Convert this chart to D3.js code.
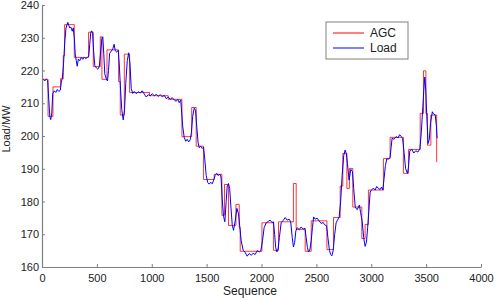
<!DOCTYPE html>
<html>
<head>
<meta charset="utf-8">
<script src="https://cdn.jsdelivr.net/npm/d3@7"></script>
<style>
  body { margin: 0; background: #fff; }
  text { font-family: "Liberation Sans", Arial, sans-serif; }
</style>
</head>
<body>
<div id="chart"></div>
<script>
const width = 498,
      height = 300;
const margin = { top: 5, right: 17, bottom: 33, left: 42 };

// AGC set-point steps: sequence where each step starts, and its value
const agcSeq = [0, 55, 100, 169, 194, 206, 294, 424, 467, 531, 546, 592, 698, 713, 750, 798, 980, 1150,
  1275, 1364, 1405, 1472, 1569, 1639, 1663, 1699, 1767, 1797, 1806, 2004, 2109, 2155, 2291, 2316,
  2398, 2453, 2596, 2656, 2717, 2741, 2778, 2801, 2832, 2914, 2944, 2974, 3111, 3172, 3293, 3339,
  3446, 3476, 3498, 3512, 3543, 3596, 3600];
const agcVal = [217.3, 206, 215, 217.5, 224.5, 234, 224, 231.7, 221.2, 230.3, 217.3, 226.3, 216.6, 206.4, 225, 213.3, 212.3, 211.2,
  199.8, 208.7, 196.9, 186.7, 188.3, 175.8, 185.2, 172.7, 179.1, 172, 164.8, 173.5, 165.1, 173.8, 185.5, 171.5,
  164.8, 174.1, 165.3, 175.1, 184.7, 194.7, 184, 190.1, 178.3, 168.7, 173, 183.5, 193.1, 199.6, 188.6, 195.9,
  206.9, 219.9, 206.9, 197.2, 206.4, 192.1, 192.1];

const loadSeq = [0, 12, 25, 39, 51, 62, 71, 80, 89, 98, 112, 126, 139, 153, 167, 176, 185, 196, 208, 219,
  235, 244, 253, 262, 276, 285, 294, 303, 312, 321, 331, 344, 358, 372, 385, 399, 413, 426, 435, 444,
  452, 461, 470, 481, 495, 508, 522, 535, 545, 554, 563, 572, 586, 597, 606, 616, 631, 645, 657, 668,
  681, 695, 704, 716, 727, 740, 752, 763, 777, 790, 802, 813, 827, 841, 859, 877, 895, 913, 932, 950,
  968, 986, 1005, 1023, 1041, 1059, 1077, 1096, 1114, 1132, 1150, 1168, 1187, 1205, 1223, 1237, 1250, 1264, 1273, 1282,
  1296, 1310, 1323, 1337, 1351, 1361, 1373, 1387, 1399, 1410, 1422, 1433, 1446, 1460, 1472, 1483, 1496, 1510, 1524, 1537,
  1551, 1564, 1578, 1592, 1606, 1619, 1631, 1642, 1654, 1666, 1678, 1687, 1699, 1710, 1722, 1733, 1745, 1760, 1776, 1790,
  1803, 1815, 1833, 1851, 1869, 1888, 1906, 1924, 1942, 1961, 1979, 1994, 2009, 2024, 2043, 2061, 2079, 2095, 2109, 2120,
  2129, 2140, 2151, 2163, 2179, 2197, 2216, 2234, 2252, 2266, 2280, 2291, 2302, 2313, 2325, 2343, 2361, 2380, 2396, 2407,
  2418, 2428, 2440, 2453, 2464, 2475, 2489, 2507, 2525, 2543, 2562, 2575, 2593, 2605, 2619, 2630, 2641, 2653, 2667, 2680,
  2692, 2708, 2721, 2735, 2749, 2762, 2773, 2783, 2798, 2814, 2829, 2840, 2854, 2872, 2892, 2903, 2917, 2931, 2944, 2956,
  2967, 2978, 2990, 3005, 3020, 3035, 3050, 3067, 3081, 3094, 3105, 3117, 3129, 3142, 3156, 3172, 3181, 3190, 3208, 3226,
  3245, 3258, 3272, 3286, 3299, 3313, 3330, 3339, 3351, 3370, 3388, 3406, 3424, 3443, 3456, 3470, 3479, 3488, 3497, 3506,
  3518, 3529, 3540, 3557, 3567, 3583, 3594, 3600];
const loadVal = [217.0, 217.3, 216.8, 217.4, 217.0, 211, 206, 205.0, 207, 213.0, 213.8, 213.3, 214.2, 213.6, 214.0, 216.5, 217.5, 222, 229, 233,
  234.7, 233.8, 233.0, 233.3, 232.0, 233.0, 230, 225, 223.0, 221.3, 223.5, 223.0, 224.0, 223.4, 224.1, 223.6, 224.0, 224.3, 228, 231.5,
  232.1, 231.4, 226, 221.5, 220.8, 220.4, 221.2, 226, 229.5, 230.3, 225, 219, 217.4, 216.8, 220, 225.2, 225.9, 226.6, 228.0, 226.0,
  225.6, 226.2, 222, 214, 208, 204.9, 208, 216, 223, 225.4, 222, 214.5, 213.0, 213.6, 212.9, 213.5, 213.1, 213.8, 212.8, 211.9,
  212.6, 212.3, 212.9, 212.3, 212.7, 212.1, 212.6, 212.0, 212.4, 211.4, 211.9, 211.2, 211.7, 211.0, 210.6, 211.2, 210.2, 211.0, 207, 203,
  199.5, 198.4, 199.0, 198.2, 198.9, 201, 206, 208.5, 207.8, 203, 198, 196.4, 196.9, 196.2, 196.6, 193, 188, 185.8, 185.3, 185.9,
  185.4, 186.5, 188.0, 188.6, 187.9, 188.4, 187.5, 181, 175.5, 173.8, 180, 184.5, 185.5, 184.0, 178, 173, 171.2, 174, 177.9, 176.3,
  172, 168, 165.1, 164.5, 163.3, 164.1, 163.6, 164.2, 163.8, 165.0, 164.6, 165.0, 168, 172, 173.5, 173.9, 174.3, 173.6, 173.8, 170,
  166, 164.6, 165.5, 169, 173.5, 174.2, 175.1, 174.3, 174.6, 173.8, 169, 166.1, 167.5, 171.0, 172.0, 171.4, 172.2, 171.6, 171.8, 169,
  166, 164.6, 165.2, 168, 172, 175.3, 174.6, 174.9, 174.1, 173.3, 173.6, 172.9, 172.6, 169, 165.1, 163.8, 163.4, 165, 170, 173.5,
  174.3, 175.3, 180, 188, 194, 195.7, 194.6, 191.6, 186.5, 189.8, 189.1, 184, 178.3, 177.5, 178.9, 176.6, 174, 169, 166.3, 167.5,
  172, 177, 182.9, 183.6, 184.1, 183.5, 184.6, 183.9, 183.7, 184.4, 183.5, 187, 191, 193.1, 192.9, 193.5, 196.5, 199.3, 199.0, 199.8,
  199.4, 200.4, 199.9, 199.2, 195, 190, 188.6, 190.5, 195.5, 195.9, 194.8, 195.5, 195.1, 196.0, 201, 209, 214, 218.0, 214, 206,
  197.7, 199, 204, 207.4, 206.8, 206.4, 203, 199.3];

const xTicks = [0, 500, 1000, 1500, 2000, 2500, 3000, 3500, 4000];
const yTicks = [160, 170, 180, 190, 200, 210, 220, 230, 240];
const seriesNames = ["AGC", "Load"];
const seriesColors = ["#ff0000", "#0000ff"];

const agcData = agcSeq.map((s, i) => ({ x: s, y: agcVal[i] }));
const loadData = loadSeq.map((s, i) => ({ x: s, y: loadVal[i] }));

const svg = d3.select("#chart")
  .append("svg")
  .attr("width", width)
  .attr("height", height);

const xScale = d3.scaleLinear()
  .domain([0, 4000])
  .range([margin.left, width - margin.right]);
const yScale = d3.scaleLinear()
  .domain([160, 240])
  .range([height - margin.bottom, margin.top]);

// AGC first, load drawn over it
svg.append("path")
  .datum(agcData)
  .attr("fill", "none")
  .attr("stroke", seriesColors[0])
  .attr("stroke-width", 0.8)
  .attr("d", d3.line().x(d => xScale(d.x)).y(d => yScale(d.y)).curve(d3.curveStepAfter));

svg.append("path")
  .datum(loadData)
  .attr("fill", "none")
  .attr("stroke", seriesColors[1])
  .attr("stroke-width", 1)
  .attr("d", d3.line().x(d => xScale(d.x)).y(d => yScale(d.y)));

const axisColor = "#808080";

const xAxis = svg.append("g")
  .attr("transform", `translate(0, ${height - margin.bottom})`)
  .call(d3.axisBottom(xScale).tickValues(xTicks).tickFormat(d3.format("d"))
    .tickSizeInner(-3).tickSizeOuter(0).tickPadding(7));
const yAxis = svg.append("g")
  .attr("transform", `translate(${margin.left}, 0)`)
  .call(d3.axisLeft(yScale).tickValues(yTicks).tickFormat(d3.format("d"))
    .tickSizeInner(-3).tickSizeOuter(0).tickPadding(3));

[xAxis, yAxis].forEach(ax => {
  ax.select(".domain").attr("stroke", axisColor).attr("stroke-width", 1.2);
  ax.selectAll(".tick line").attr("stroke", axisColor);
  ax.selectAll(".tick text")
    .attr("fill", "#222")
    .style("font-size", "11px")
    .style("font-family", "\"Liberation Sans\", Arial, sans-serif");
});

svg.append("text")
  .attr("x", 250)
  .attr("y", 295)
  .attr("text-anchor", "middle")
  .attr("font-size", "12px")
  .attr("fill", "#222")
  .text("Sequence");

svg.append("text")
  .attr("transform", "translate(10, 129) rotate(-90)")
  .attr("text-anchor", "middle")
  .attr("font-size", "11px")
  .attr("fill", "#222")
  .text("Load/MW");

// legend
const legend = svg.append("g").attr("transform", "translate(326, 22)");
legend.append("rect")
  .attr("width", 82)
  .attr("height", 37)
  .attr("fill", "#fff")
  .attr("stroke", "#808080");
seriesNames.forEach((name, i) => {
  legend.append("line")
    .attr("x1", 7).attr("x2", 38)
    .attr("y1", 11 + i * 15).attr("y2", 11 + i * 15)
    .attr("stroke", seriesColors[i]);
  legend.append("text")
    .attr("x", 44)
    .attr("y", 11 + i * 15)
    .attr("dy", "0.35em")
    .attr("font-size", "12px")
    .attr("fill", "#222")
    .text(name);
});
</script>
</body>
</html>
